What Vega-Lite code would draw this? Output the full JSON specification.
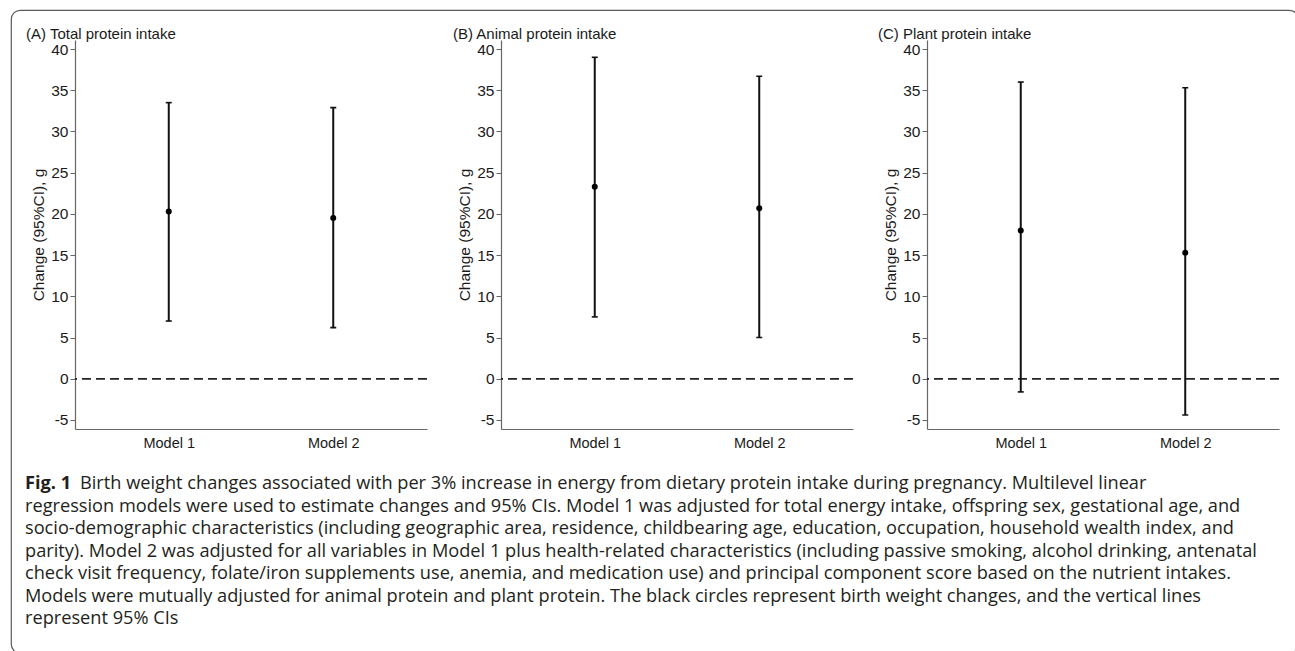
{
  "$schema": "https://vega.github.io/schema/vega-lite/v6.json",
  "background": "white",
  "padding": {"left": 10, "top": 9, "right": 0, "bottom": 0},
  "datasets": {
    "est": [
      {"panel": "A", "model": "Model 1", "estimate": 20.3, "lower": 7.0, "upper": 33.5},
      {"panel": "A", "model": "Model 2", "estimate": 19.5, "lower": 6.2, "upper": 32.9},
      {"panel": "B", "model": "Model 1", "estimate": 23.3, "lower": 7.5, "upper": 39.0},
      {"panel": "B", "model": "Model 2", "estimate": 20.7, "lower": 5.0, "upper": 36.7},
      {"panel": "C", "model": "Model 1", "estimate": 18.0, "lower": -1.6, "upper": 36.0},
      {"panel": "C", "model": "Model 2", "estimate": 15.3, "lower": -4.4, "upper": 35.3}
    ],
    "cap": [
      {"line": 1, "kind": "bold", "text": "Fig. 1"},
      {"line": 1, "kind": "first", "text": "Birth weight changes associated with per 3% increase in energy from dietary protein intake during pregnancy. Multilevel linear"},
      {"line": 2, "kind": "rest", "text": "regression models were used to estimate changes and 95% CIs. Model 1 was adjusted for total energy intake, offspring sex, gestational age, and"},
      {"line": 3, "kind": "rest", "text": "socio-demographic characteristics (including geographic area, residence, childbearing age, education, occupation, household wealth index, and"},
      {"line": 4, "kind": "rest", "text": "parity). Model 2 was adjusted for all variables in Model 1 plus health-related characteristics (including passive smoking, alcohol drinking, antenatal"},
      {"line": 5, "kind": "rest", "text": "check visit frequency, folate/iron supplements use, anemia, and medication use) and principal component score based on the nutrient intakes."},
      {"line": 6, "kind": "rest", "text": "Models were mutually adjusted for animal protein and plant protein. The black circles represent birth weight changes, and the vertical lines"},
      {"line": 7, "kind": "rest", "text": "represent 95% CIs"}
    ],
    "none": []
  },
  "columns": 1,
  "align": "none",
  "spacing": -441,
  "concat": [
    {
      "spacing": 14,
      "hconcat": [
        {"width": 1, "height": 1, "data": {"name": "none"}, "mark": "point"},
        {
          "spacing": 74,
          "bounds": "flush",
          "hconcat": [
            {
              "title": {"text": "(A) Total protein intake", "dx": -49},
              "width": 352, "height": 389,
              "data": {"name": "est"},
              "transform": [{"filter": "datum.panel === 'A'"}],
              "layer": [
                {"mark": {"type": "rule", "strokeDash": [9, 5], "color": "#222", "strokeWidth": 1.3}, "encoding": {"y": {"datum": 0, "type": "quantitative", "title": "Change (95%CI), g"}}},
                {"mark": {"type": "rule", "color": "#111", "strokeWidth": 2}, "encoding": {"x": {"field": "model", "type": "ordinal", "title": null, "scale": {"type": "point", "padding": 0.57}}, "y": {"field": "lower", "type": "quantitative", "title": "Change (95%CI), g", "scale": {"domain": [-6.1, 41.1], "nice": false, "zero": false}}, "y2": {"field": "upper"}}},
                {"mark": {"type": "tick", "color": "#111", "size": 6, "thickness": 1.6, "opacity": 1}, "encoding": {"x": {"field": "model", "type": "ordinal", "title": null}, "y": {"field": "upper", "type": "quantitative", "title": "Change (95%CI), g"}}},
                {"mark": {"type": "tick", "color": "#111", "size": 6, "thickness": 1.6, "opacity": 1}, "encoding": {"x": {"field": "model", "type": "ordinal", "title": null}, "y": {"field": "lower", "type": "quantitative", "title": "Change (95%CI), g"}}},
                {"mark": {"type": "point", "filled": true, "color": "#000", "size": 36, "opacity": 1}, "encoding": {"x": {"field": "model", "type": "ordinal", "title": null}, "y": {"field": "estimate", "type": "quantitative", "title": "Change (95%CI), g"}}}
              ]
            },
            {
              "title": {"text": "(B) Animal protein intake", "dx": -48},
              "width": 352, "height": 389,
              "data": {"name": "est"},
              "transform": [{"filter": "datum.panel === 'B'"}],
              "layer": [
                {"mark": {"type": "rule", "strokeDash": [9, 5], "color": "#222", "strokeWidth": 1.3}, "encoding": {"y": {"datum": 0, "type": "quantitative", "title": "Change (95%CI), g"}}},
                {"mark": {"type": "rule", "color": "#111", "strokeWidth": 2}, "encoding": {"x": {"field": "model", "type": "ordinal", "title": null, "scale": {"type": "point", "padding": 0.57}}, "y": {"field": "lower", "type": "quantitative", "title": "Change (95%CI), g", "scale": {"domain": [-6.1, 41.1], "nice": false, "zero": false}}, "y2": {"field": "upper"}}},
                {"mark": {"type": "tick", "color": "#111", "size": 6, "thickness": 1.6, "opacity": 1}, "encoding": {"x": {"field": "model", "type": "ordinal", "title": null}, "y": {"field": "upper", "type": "quantitative", "title": "Change (95%CI), g"}}},
                {"mark": {"type": "tick", "color": "#111", "size": 6, "thickness": 1.6, "opacity": 1}, "encoding": {"x": {"field": "model", "type": "ordinal", "title": null}, "y": {"field": "lower", "type": "quantitative", "title": "Change (95%CI), g"}}},
                {"mark": {"type": "point", "filled": true, "color": "#000", "size": 36, "opacity": 1}, "encoding": {"x": {"field": "model", "type": "ordinal", "title": null}, "y": {"field": "estimate", "type": "quantitative", "title": "Change (95%CI), g"}}}
              ]
            },
            {
              "title": {"text": "(C) Plant protein intake", "dx": -49},
              "width": 352, "height": 389,
              "data": {"name": "est"},
              "transform": [{"filter": "datum.panel === 'C'"}],
              "layer": [
                {"mark": {"type": "rule", "strokeDash": [9, 5], "color": "#222", "strokeWidth": 1.3}, "encoding": {"y": {"datum": 0, "type": "quantitative", "title": "Change (95%CI), g"}}},
                {"mark": {"type": "rule", "color": "#111", "strokeWidth": 2}, "encoding": {"x": {"field": "model", "type": "ordinal", "title": null, "scale": {"type": "point", "padding": 0.57}}, "y": {"field": "lower", "type": "quantitative", "title": "Change (95%CI), g", "scale": {"domain": [-6.1, 41.1], "nice": false, "zero": false}}, "y2": {"field": "upper"}}},
                {"mark": {"type": "tick", "color": "#111", "size": 6, "thickness": 1.6, "opacity": 1}, "encoding": {"x": {"field": "model", "type": "ordinal", "title": null}, "y": {"field": "upper", "type": "quantitative", "title": "Change (95%CI), g"}}},
                {"mark": {"type": "tick", "color": "#111", "size": 6, "thickness": 1.6, "opacity": 1}, "encoding": {"x": {"field": "model", "type": "ordinal", "title": null}, "y": {"field": "lower", "type": "quantitative", "title": "Change (95%CI), g"}}},
                {"mark": {"type": "point", "filled": true, "color": "#000", "size": 36, "opacity": 1}, "encoding": {"x": {"field": "model", "type": "ordinal", "title": null}, "y": {"field": "estimate", "type": "quantitative", "title": "Change (95%CI), g"}}}
              ]
            }
          ]
        }
      ]
    },
    {
      "width": 1287, "height": 643,
      "view": {"stroke": "#5a5a5a", "strokeWidth": 1.2, "cornerRadius": 9},
      "data": {"name": "cap"},
      "layer": [
        {
          "transform": [{"filter": "datum.kind === 'bold'"}],
          "mark": {"type": "text", "x": 0, "dx": 14, "align": "left", "baseline": "middle", "font": "Open Sans", "fontSize": 18.2, "fontWeight": "bold", "color": "#231f20"},
          "encoding": {"y": {"field": "line", "type": "quantitative", "scale": {"domain": [-20.07, 8.51], "reverse": true, "nice": false, "zero": false}, "axis": null}, "text": {"field": "text"}}
        },
        {
          "transform": [{"filter": "datum.kind === 'first'"}],
          "mark": {"type": "text", "x": 0, "dx": 69, "align": "left", "baseline": "middle", "font": "Open Sans", "fontSize": 18.2, "color": "#231f20"},
          "encoding": {"y": {"field": "line", "type": "quantitative", "axis": null}, "text": {"field": "text"}}
        },
        {
          "transform": [{"filter": "datum.kind === 'rest'"}],
          "mark": {"type": "text", "x": 0, "dx": 14, "align": "left", "baseline": "middle", "font": "Open Sans", "fontSize": 18.2, "color": "#231f20"},
          "encoding": {"y": {"field": "line", "type": "quantitative", "axis": null}, "text": {"field": "text"}}
        }
      ]
    }
  ],
  "config": {
    "view": {"stroke": null},
    "font": "Liberation Sans",
    "title": {"anchor": "start", "frame": "group", "fontSize": 15, "fontWeight": "normal", "font": "Liberation Sans", "color": "#1a1a1a", "offset": -2},
    "axisX": {"ticks": false, "labelAngle": 0, "labelPadding": 7, "labelFontSize": 14.5, "labelColor": "#1a1a1a", "domainColor": "#666", "domainWidth": 1.2, "grid": false},
    "axisY": {"values": [-5, 0, 5, 10, 15, 20, 25, 30, 35, 40], "labelExpr": "replace(datum.label, '\u2212', '-')", "grid": false, "tickSize": 5, "tickColor": "#666", "domainColor": "#666", "domainWidth": 1.2, "labelPadding": 2, "labelFontSize": 15.5, "labelColor": "#1a1a1a", "titleFontSize": 15.5, "titleFontWeight": "normal", "titleColor": "#1a1a1a", "titlePadding": 4}
  }
}
